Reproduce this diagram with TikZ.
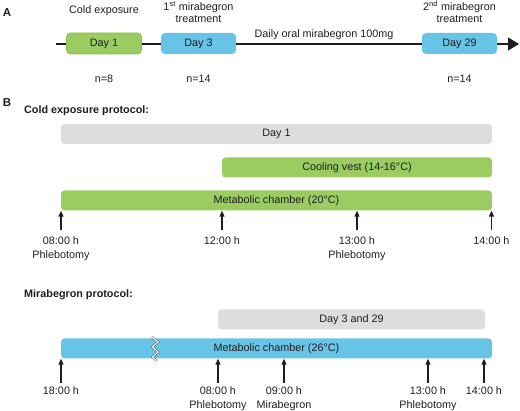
\documentclass[tikz,border=0pt]{standalone}
\usepackage{fontspec}
\setmainfont{Liberation Sans}
\usetikzlibrary{arrows.meta}
\definecolor{grn}{RGB}{155,204,98}
\definecolor{grnd}{RGB}{136,190,80}
\definecolor{blu}{RGB}{104,196,230}
\definecolor{gry}{RGB}{221,221,221}
\definecolor{txt}{RGB}{30,30,30}
\begin{document}
\begin{tikzpicture}[x=1pt,y=-1pt,
  every node/.style={text=txt,font=\fontsize{10.8}{12}\selectfont,inner sep=0pt},
  daybox/.style={rounded corners=4pt,minimum width=75pt,minimum height=21pt},
  greenbox/.style={daybox,fill=grn,draw=grnd,line width=0.6pt},
  bluebox/.style={daybox,fill=blu},
  bar/.style={rounded corners=3.5pt,minimum height=20pt},
  greenbar/.style={bar,fill=grn},
  bluebar/.style={bar,fill=blu},
  graybar/.style={bar,fill=gry},
  panel/.style={font=\fontsize{11.5}{13}\selectfont\bfseries},
  heading/.style={font=\fontsize{10.8}{12}\selectfont\bfseries,anchor=west},
  timelabel/.style={align=center,font=\fontsize{10.8}{14}\selectfont,anchor=north},
  uparrow/.style={line width=1.1pt,draw=txt,-{Triangle[length=6pt,width=5pt]}},
  tline/.style={line width=1.1pt,draw=txt}
]
\useasboundingbox (0,0) rectangle (520,411);

% ---------- Panel A ----------
\node[panel] (A) at (7,13) {A};
\coordinate (ls) at (56,44);
\coordinate (le) at (519,44);
\draw[tline,-{Triangle[length=11pt,width=13pt]}] (ls) -- (le);
\node[greenbox] (d1) at (104,43.5) {Day 1};
\node[bluebox] (d3) at (198.5,43.5) {Day 3};
\node[bluebox] (d29) at (459.5,43.5) {Day 29};
\node (ce) at (104,11) {Cold exposure};
\node[align=center,font=\fontsize{10.8}{12}\selectfont] (m1) at (198.5,12) {1\textsuperscript{st} mirabegron\\treatment};
\node[align=center,font=\fontsize{10.8}{12}\selectfont] (m2) at (459.5,12) {2\textsuperscript{nd} mirabegron\\treatment};
\node (daily) at (324,34.5) {Daily oral mirabegron 100mg};
\node (n1) at (104,79) {n=8};
\node (n3) at (198.5,79) {n=14};
\node (n29) at (459.5,79) {n=14};

% ---------- Panel B: cold exposure ----------
\node[panel] (B) at (7,103) {B};
\node[heading] (hc) at (24,111) {Cold exposure protocol:};
\node[graybar,minimum width=431pt] (day1) at (276.5,134) {Day 1};
\node[greenbar,minimum width=270pt] (vest) at (357,167.5) {Cooling vest (14-16°C)};
\node[greenbar,minimum width=431pt] (mc1) at (276.5,200.5) {Metabolic chamber (20°C)};

\node[timelabel] (c1) at (61,236.5) {08:00 h\\Phlebotomy};
\node[timelabel] (c2) at (222,236.5) {12:00 h};
\node[timelabel] (c3) at (357,236.5) {13:00 h\\Phlebotomy};
\node[timelabel] (c4) at (491.5,236.5) {14:00 h};
\foreach \n in {c1,c2,c3,c4}{
  \coordinate (\n s) at ([yshift=6pt]\n.north);
  \draw[uparrow] (\n s) -- (\n s |- mc1.south);
}

% ---------- Panel B: mirabegron ----------
\node[heading] (hm) at (24,295) {Mirabegron protocol:};
\node[graybar,minimum width=267pt] (day329) at (351.5,319.5) {Day 3 and 29};
\node[bluebar,minimum width=431pt] (mc2) at (276.5,348.5) {Metabolic chamber (26°C)};
\draw[line width=0.5pt,draw=black!70,double=white,double distance=1.1pt,line join=miter]
  (152,337) -- (158,342) -- (152.5,347) -- (158,352) -- (152.5,357) -- (157,361);

\node[timelabel] (r1) at (61,386) {18:00 h};
\node[timelabel] (r2) at (218,386) {08:00 h\\Phlebotomy};
\node[timelabel] (r3) at (284,386) {09:00 h\\Mirabegron};
\node[timelabel] (r4) at (428,386) {13:00 h\\Phlebotomy};
\node[timelabel] (r5) at (484,386) {14:00 h};
\foreach \n in {r1,r2,r3,r4,r5}{
  \coordinate (\n s) at ([yshift=3pt]\n.north);
  \draw[uparrow] (\n s) -- (\n s |- mc2.south);
}
\end{tikzpicture}
\end{document}
